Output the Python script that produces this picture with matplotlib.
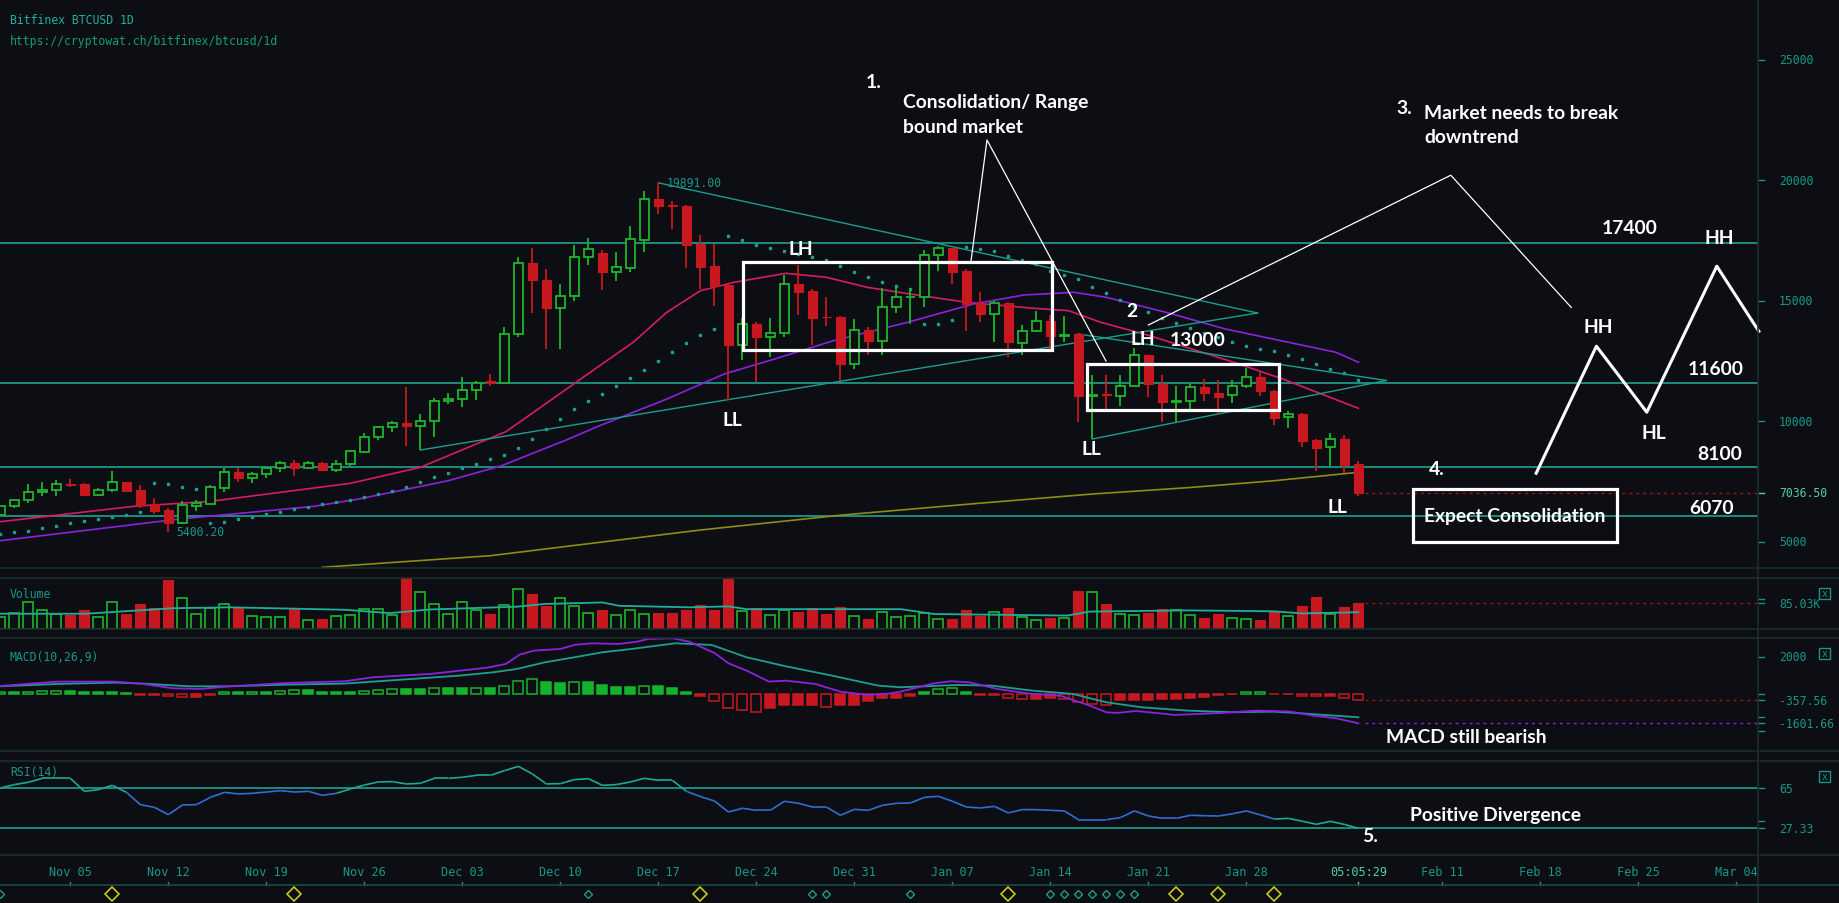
import numpy as np
import matplotlib
matplotlib.use('Agg')
import matplotlib.pyplot as plt
from matplotlib.lines import Line2D
from matplotlib.patches import Rectangle
from matplotlib.collections import LineCollection

# ---- data (day 0 = Nov 05 2017, last candle = Feb 05 2018) ----
days = np.arange(-5, 93)

opens = [6122, 6467, 6744, 7049, 7131, 7380, 7380, 6952, 7131, 7477,
         7145, 6550, 6315, 5790, 6495, 6578, 7242, 7878, 7657, 7795,
         8044, 8265, 8072, 8265, 7989, 8210, 8736, 9330, 9745, 9925,
         9787, 10000, 10850, 10930, 11300, 11650, 11600, 13600, 16550, 15850,
         14700, 15200, 16800, 16979, 16178, 16357, 17531, 19220, 18960, 18930,
         17353, 16427, 15651, 13174, 14033, 13481, 13647, 15680, 15402, 14324,
         14324, 12386, 13772, 13340, 14739, 15141, 15141, 16884, 17174, 16220,
         14892, 14436, 14892, 13232, 13755, 14170, 13548, 13618, 11058, 11100,
         11033, 11473, 12747, 11531, 10784, 10826, 11407, 11158, 11100, 11448,
         11822, 11241, 10162, 10299, 9220, 8917, 9261, 8224]
highs = [6500, 6740, 7394, 7480, 7560, 7590, 7420, 7230, 7933, 7480,
         7350, 6800, 6400, 6690, 6730, 7350, 8050, 8050, 7880, 8100,
         8340, 8390, 8350, 8320, 8400, 8790, 9500, 9790, 10000, 11400,
         10300, 10950, 11150, 11850, 11650, 11950, 13900, 16800, 17200, 16300,
         15700, 17300, 17600, 17120, 17008, 18087, 19540, 19891, 19150, 18960,
         17726, 17353, 15700, 14300, 14100, 14282, 16066, 16481, 15485, 15166,
         14378, 14241, 13896, 15514, 15622, 15527, 17104, 17282, 17200, 16315,
         15349, 15000, 14934, 14000, 14560, 14407, 14378, 13650, 11900, 11917,
         11917, 13025, 12750, 11917, 11448, 11585, 11751, 11710, 11710, 12195,
         12029, 11300, 10436, 10340, 9250, 9510, 9427, 8361]
lows = [6080, 6380, 6600, 6900, 6900, 7280, 6950, 6900, 7050, 7050,
        6390, 6150, 5400, 5750, 6270, 6540, 7080, 7490, 7420, 7660,
        7910, 7740, 8020, 7930, 7880, 8160, 8700, 9240, 9560, 8985,
        8805, 9360, 10700, 10600, 10900, 11450, 11650, 13500, 14500, 13000,
        13000, 15000, 16500, 15430, 15830, 16200, 17030, 18600, 17975, 16357,
        15485, 14793, 10892, 12540, 11614, 12651, 13506, 14419, 13174, 13963,
        11680, 12166, 12759, 12759, 14477, 14033, 14726, 16245, 15693, 13755,
        14104, 13300, 12651, 12750, 13714, 12884, 13274, 9954, 9261, 10506,
        10643, 11400, 11017, 9979, 9913, 10506, 10851, 10299, 10755, 11378,
        11058, 9855, 9730, 8942, 7946, 8129, 7851, 6909]
closes = [6467, 6717, 7049, 7145, 7380, 7370, 6952, 7145, 7477, 7117,
          6523, 6288, 5790, 6523, 6606, 7256, 7878, 7643, 7795, 8044,
          8252, 8072, 8252, 7989, 8210, 8750, 9330, 9745, 9911, 9787,
          10000, 10850, 10930, 11300, 11600, 11600, 13600, 16550, 15850, 14700,
          15200, 16800, 17150, 16178, 16386, 17547, 19207, 18942, 18942, 17324,
          16411, 15597, 13174, 14033, 13506, 13647, 15680, 15373, 14295, 14311,
          12386, 13772, 13340, 14739, 15141, 15160, 16884, 17174, 16203, 14876,
          14436, 14892, 13274, 13755, 14170, 13548, 13589, 11058, 11087, 11087,
          11473, 12747, 11531, 10784, 10820, 11407, 11158, 10992, 11448, 11822,
          11241, 10145, 10286, 9191, 8900, 9261, 8195, 7036.5]

sar = [5320, 5416, 5458, 5569, 5665, 5776, 5873, 5942, 6025, 6108,
       6246, 7449, 7408, 7270, 7187, 5776, 5831, 5942, 6025, 6149,
       6232, 6371, 6440, 6578, 6661, 6730, 6869, 6979, 7104, 7270,
       7491, 7685, 7864, 8058, 8238, 8431, 8611, 8888, 9275, 9676,
       10091, 10500, 10850, 11129, 11473, 11793, 12137, 12510, 12884, 13245,
       13589, 13826, 17697, 17531, 17324, 17187, 17050, 16940, 16826, 16689,
       16452, 16203, 15971, 15788, 15610, 15485, 14033, 14033, 14212, 17241,
       17145, 17075, 16867, 16689, 16510, 16245, 16066, 15900, 15581, 15300,
       15050, 14800, 14550, 14300, 14080, 13870, 13680, 13490, 13299, 13133,
       12996, 12913, 12759, 12593, 12386, 12166, 11988, 11710]

ma_pink_days = [-5, 4.5, 10, 20, 25, 31.1, 32.4, 37.8, 40.2, 42.6, 45, 47.4, 51.1, 54,
                56.9, 60, 64, 68.8, 71.3, 73.6, 77.1, 83.1, 86.6, 92]
ma_pink = [5831, 6467, 6675, 7422, 8086, 9565, 10091, 12303, 13274, 14519, 15415, 15763,
           16137, 15971, 15556, 15278, 14934, 14685, 14585, 14104, 13548, 12444, 11751, 10535]
ma_purple_days = [-5, 7.8, 17.4, 20.6, 27, 30.8, 35.3, 37.8, 42.6, 46.7, 50.3, 54.5, 59.8,
                  64.5, 68.1, 71.7, 74, 78.5, 82.5, 90.4, 92]
ma_purple = [5043, 5942, 6467, 6772, 7533, 8155, 9192, 9813, 10921, 11958, 12581, 13340,
             14104, 14863, 15237, 15348, 15141, 14480, 13826, 12859, 12444]
ma_olive_days = [18, 30, 45, 55, 65, 73, 80, 86, 92]
ma_olive = [3937, 4419, 5485, 6100, 6600, 6979, 7250, 7531, 7880]

levels = [17400, 11600, 8100, 6070]
price_ticks = [25000, 20000, 15000, 10000, 5000]
last_price = 7036.5

volume = [38, 52, 89, 61, 48, 46, 61, 38, 87, 49, 82, 69, 160, 100, 48, 69, 81, 68, 41, 38,
          38, 68, 28, 32, 41, 45, 64, 64, 46, 167, 120, 81, 48, 87, 61, 48, 77, 130, 114, 75,
          100, 74, 51, 61, 45, 61, 48, 52, 52, 61, 78, 61, 164, 58, 68, 45, 61, 56, 68, 49,
          71, 41, 32, 55, 38, 44, 51, 32, 33, 62, 43, 56, 69, 38, 28, 36, 35, 124, 120, 83,
          48, 46, 52, 65, 61, 45, 36, 49, 35, 32, 28, 57, 41, 75, 105, 50, 72, 85.03]
vol_ma_days = [-5, 1.1, 7.3, 11.4, 19.6, 22.8, 25.7, 31.9, 33.9, 38, 39.2, 44.2, 47, 48.3,
               59.3, 61.7, 71.2, 72.8, 79.8, 85.9, 88, 92]
vol_ma = [50, 50, 68, 71, 63, 52, 64, 73, 82, 87, 76, 71, 74, 65, 65, 49, 44, 57, 61, 58, 51, 55]

macd_hist = [72, 72, 100, 140, 150, 150, 110, 110, 100, 60, -60, -90, -150, -190, -190, -70,
             72, 72, 108, 108, 162, 180, 180, 108, 108, 108, 162, 216, 270, 234, 234, 288,
             288, 288, 325, 288, 433, 703, 811, 649, 559, 613, 613, 451, 343, 343, 433, 397,
             325, 108, -108, -397, -793, -883, -974, -793, -613, -613, -613, -703, -613, -613,
             -397, -250, -216, -108, 108, 270, 288, 108, -72, -72, -252, -270, -270, -252,
             -270, -469, -577, -613, -361, -325, -325, -288, -288, -216, -180, -72, -36, 72,
             108, -36, -36, -108, -144, -144, -216, -357.56]
macd_days = [-5, -0.9, 3.2, 5.2, 7.3, 9.3, 11.4, 15.5, 19.6, 21.6, 25.7, 29.8, 31.1, 32.1,
             33.1, 35, 36, 37.2, 39.2, 40.5, 41.3, 43, 44.2, 46, 47, 48.3, 49.9, 51.1, 53.2,
             55, 56.9, 58.5, 59.3, 61.7, 62.9, 64.2, 66.2, 68.7, 70.7, 72.8, 74, 74.8, 76.1,
             78.9, 82.2, 84.7, 87.1, 88.8, 90.4, 92]
macd_line = [418, 653, 653, 526, 292, 256, 400, 581, 671, 887, 1067, 1410, 1608, 2113,
             2329, 2420, 2636, 2726, 2690, 2816, 2961, 2997, 2816, 2203, 1644, 1248, 653, 707,
             526, 112, -69, 4, 112, 563, 671, 617, 256, -14, -105, -645, -1006, -1042, -934,
             -1150, -1042, -916, -970, -1186, -1330, -1601.66]
signal_days = [-5, -0.9, 3.2, 5.2, 8.5, 11.4, 15.5, 19.6, 23.7, 27.8, 30.2, 31.9, 33.9, 36,
               38, 40.1, 43.2, 45.8, 48.3, 51.1, 54.4, 57.7, 59.3, 63.4, 65.8, 68.7, 71.6, 74,
               76.5, 79.8, 83, 85.9, 87.5, 92]
signal_line = [400, 526, 599, 545, 400, 400, 490, 545, 761, 977, 1158, 1338, 1698, 1969,
               2239, 2420, 2726, 2636, 1969, 1482, 977, 436, 346, 472, 436, 166, -14, -465,
               -736, -916, -1006, -970, -1042, -1277]

rsi = [65.3, 68.5, 70.7, 74.4, 74.4, 74.4, 62.2, 63.7, 67.8, 61.2, 49.6, 47.1, 40.2, 49.3,
       49.6, 56.5, 61.2, 59.7, 60.3, 61.5, 62.8, 61.5, 62.2, 58.4, 60.3, 64.4, 68.1, 71.0,
       71.3, 69.1, 69.7, 74.4, 74.4, 75.4, 77.2, 77.2, 81.6, 85.7, 78.5, 69.1, 69.4, 73.2,
       74.1, 67.8, 68.5, 71.0, 74.4, 72.5, 72.5, 62.2, 57.2, 53.1, 42.7, 46.2, 44.3, 44.3,
       52.8, 50.9, 47.4, 47.4, 39.6, 45.2, 44.3, 49.0, 50.9, 51.2, 56.5, 57.5, 52.8, 47.4,
       46.5, 48.0, 41.8, 45.0, 44.9, 44.3, 43.7, 35.5, 35.5, 35.5, 37.4, 43.7, 39.0, 36.7,
       36.7, 39.6, 39.2, 38.9, 41.0, 43.7, 40.0, 36.1, 36.7, 34.0, 31.1, 33.9, 31.0, 27.33]
rsi_teal_spans = [(-5, 4), (19.5, 44), (86.5, 92)]

date_tick_days = [0, 7, 14, 21, 28, 35, 42, 49, 56, 63, 70, 77, 84, 98, 105, 112, 119]
date_tick_labels = ['Nov 05', 'Nov 12', 'Nov 19', 'Nov 26', 'Dec 03', 'Dec 10', 'Dec 17',
                    'Dec 24', 'Dec 31', 'Jan 07', 'Jan 14', 'Jan 21', 'Jan 28',
                    'Feb 11', 'Feb 18', 'Feb 25', 'Mar 04']
teal_marks = [-5, 37, 53, 54, 60, 70, 71, 72, 73, 74, 75, 76]
yellow_marks = [3, 16, 45, 67, 79, 82, 86]

# ---- styling ----
W, H = 1839, 904
BG = '#0d0e13'
GREEN = '#1cb52b'
RED = '#c8181f'
TEAL = '#1fae9c'
LABEL = '#17978a'
SEP = '#1a2e2e'
WHITE_FONT = ['Lato', 'DejaVu Sans']
NOTE_SIZE = 13.9
MONO = 'DejaVu Sans Mono'
X0, X1 = -70.4 / 14, (1758 - 70.4) / 14
AXR = 1758 / W


def rect(top, bottom):
    return [0, 1 - bottom / H, AXR, (bottom - top) / H]


fig = plt.figure(figsize=(W / 100, H / 100), dpi=100, facecolor=BG)
ax = fig.add_axes(rect(0, 569))
axv = fig.add_axes(rect(579, 630))
axm = fig.add_axes(rect(639, 751.7))
axr = fig.add_axes(rect(761.7, 856))
axd = fig.add_axes(rect(856, 904))
for a in (ax, axv, axm, axr, axd):
    a.set_facecolor(BG)
    a.set_xlim(X0, X1)
    a.set_xticks([])
    a.set_yticks([])
    for s in a.spines.values():
        s.set_visible(False)
ax.set_ylim(3909, 27519)
axv.set_ylim(0, 167)
axm.set_ylim(-3085, 3012)
axr.set_ylim(2.2, 91)
axd.set_ylim(904, 856)

# separators and right axis line
for yp in [569, 579, 630, 639, 751.7, 761.7, 856]:
    fig.add_artist(Line2D([0, 1], [1 - yp / H] * 2, color=SEP, lw=1.2))
fig.add_artist(Line2D([AXR, AXR], [0, 1], color=SEP, lw=1.2))


def right_label(a, val, txt, color=LABEL):
    tr = a.get_yaxis_transform()
    a.plot([1.0, 1.0 + 6 / 1758], [val, val], color=color, lw=1, transform=tr, clip_on=False)
    a.text(1.0 + 21 / 1758, val, txt, transform=tr, color=color, fontsize=8.3,
           family=MONO, va='center', ha='left', clip_on=False)


def note(a, d, v, txt, ha='center'):
    a.text(d, v, txt, color='white', fontsize=NOTE_SIZE, fontweight='bold',
           family=WHITE_FONT, ha=ha, va='center', zorder=7)


# ---- main price panel ----
opens, highs, lows, closes = map(np.array, (opens, highs, lows, closes))
up = closes >= opens
cols = np.where(up, GREEN, RED)
ax.vlines(days, lows, highs, colors=cols, lw=1.3, zorder=4)
body_lo = np.minimum(opens, closes)
body_h = np.maximum(np.abs(closes - opens), 25)
ax.bar(days[up], body_h[up], bottom=body_lo[up], width=0.7, facecolor=BG,
       edgecolor=GREEN, lw=1.3, zorder=5)
ax.bar(days[~up], body_h[~up], bottom=body_lo[~up], width=0.7, facecolor=RED,
       edgecolor=RED, lw=0.8, zorder=5)

ax.plot(ma_pink_days, ma_pink, color='#d81b66', lw=1.2, zorder=3)
ax.plot(ma_purple_days, ma_purple, color='#8a22e0', lw=1.2, zorder=3)
ax.plot(ma_olive_days, ma_olive, color='#8c8c16', lw=1.2, zorder=3)
ax.plot(days, sar, 's', color='#1a9e90', ms=2.0, zorder=3)

for lv in levels:
    ax.axhline(lv, color=TEAL, lw=1.1, zorder=2)

# trend triangles
ax.plot([42, 84.8], [19891, 14490], color='#1a9e90', lw=1.0, zorder=3)
ax.plot([25, 84.8], [8805, 14490], color='#1a9e90', lw=1.0, zorder=3)
ax.plot([72, 94], [13618, 11690], color='#1a9e90', lw=1.0, zorder=3)
ax.plot([73, 94], [9261, 11690], color='#1a9e90', lw=1.0, zorder=3)
ax.text(42.6, 19891, '19891.00', color=LABEL, fontsize=8.3, family=MONO, va='center')
ax.text(7.55, 5440, '5400.20', color=LABEL, fontsize=8.3, family=MONO, va='center')

ax.plot([92.5, X1], [last_price] * 2, color='#a0141c', lw=1, ls=(0, (2, 3)))
for pt in price_ticks:
    right_label(ax, pt, str(pt))
right_label(ax, last_price, '7036.50', color='#4fd49a')

fig.text(10 / W, 1 - 21 / H, 'Bitfinex BTCUSD 1D', color='#1fb0a0', fontsize=8.3,
         family=MONO, va='center')
fig.text(10 / W, 1 - 42 / H, 'https://cryptowat.ch/bitfinex/btcusd/1d', color='#12a070',
         fontsize=8.3, family=MONO, va='center')

# boxes
for (d0, d1, p0, p1) in [(48.06, 70.12, 12967, 16593), (72.6, 86.35, 10465, 12373),
                         (95.9, 110.5, 5000, 7191)]:
    ax.add_patch(Rectangle((d0, p0), d1 - d0, p1 - p0, fill=False, ec='white',
                           lw=2.3, zorder=6))

# annotation lines
ax.plot([64.33, 65.47, 73.97], [16647, 21668, 12498], color='white', lw=0.9, zorder=6)
ax.plot([77.0, 98.6, 107.2], [13992, 20207, 14722], color='white', lw=0.9, zorder=6)
ax.plot([104.7, 109.0, 112.6, 117.6, 120.6], [7842, 13112, 10373, 16432, 13734],
        color='white', lw=2.2, zorder=6, clip_on=False)

notes = [
    (57.4, 24116, '1.', 'center'),
    (59.5, 23286, 'Consolidation/ Range', 'left'),
    (59.5, 22249, 'bound market', 'left'),
    (95.3, 23037, '3.', 'center'),
    (96.7, 22830, 'Market needs to break', 'left'),
    (96.7, 21793, 'downtrend', 'left'),
    (111.4, 18017, '17400', 'center'),
    (117.8, 17643, 'HH', 'center'),
    (52.2, 17146, 'LH', 'center'),
    (75.8, 14614, '2', 'center'),
    (76.6, 13452, 'LH', 'center'),
    (80.5, 13411, '13000', 'center'),
    (109.1, 13950, 'HH', 'center'),
    (117.5, 12207, '11600', 'center'),
    (47.3, 10091, 'LL', 'center'),
    (113.1, 9552, 'HL', 'center'),
    (72.9, 8888, 'LL', 'center'),
    (117.8, 8680, '8100', 'center'),
    (97.6, 8058, '4.', 'center'),
    (90.5, 6481, 'LL', 'center'),
    (103.2, 6108, 'Expect Consolidation', 'center'),
    (117.2, 6440, '6070', 'center'),
]
for d, p, txt, ha in notes:
    note(ax, d, p, txt, ha)

# ---- volume ----
volume = np.array(volume)
axv.bar(days[up], volume[up], width=0.72, facecolor=BG, edgecolor=GREEN, lw=1.2)
axv.bar(days[~up], volume[~up], width=0.72, facecolor=RED, edgecolor=RED, lw=0.8)
axv.plot(vol_ma_days, vol_ma, color=TEAL, lw=1.3)
axv.plot([92.5, X1], [85.03] * 2, color='#a0141c', lw=1, ls=(0, (2, 3)))
axv.text(10 / 1758, 0.7, 'Volume', transform=axv.transAxes, color=LABEL, fontsize=8.3,
         family=MONO, va='center')
right_label(axv, 85.03, '85.03K')
axv.plot([1.0, 1.0 + 6 / 1758], [97, 97], color=LABEL, lw=1,
         transform=axv.get_yaxis_transform(), clip_on=False)

# ---- MACD ----
hist = np.array(macd_hist)
prev = np.concatenate([[0], hist[:-1]])
hollow = np.abs(hist) > np.abs(prev)
hcol = np.where(hist >= 0, '#12b52a', RED)
for d, v, c, ho in zip(days, hist, hcol, hollow):
    axm.bar(d, v, width=0.72, facecolor=BG if ho else c, edgecolor=c, lw=1.1)
axm.plot(signal_days, signal_line, color='#1e9e90', lw=1.3)
axm.plot(macd_days, macd_line, color='#8a22e0', lw=1.3)
axm.plot([92.5, X1], [-357.56] * 2, color='#a0141c', lw=1, ls=(0, (2, 3)))
axm.plot([92.5, X1], [-1601.66] * 2, color='#8a22e0', lw=1, ls=(0, (2, 3)))
axm.text(10 / 1758, 2000, 'MACD(10,26,9)', color=LABEL, fontsize=8.3, family=MONO,
         va='center', transform=axm.get_yaxis_transform())
right_label(axm, 2000, '2000')
right_label(axm, -357.56, '-357.56')
right_label(axm, -1601.66, '-1601.66')
for v in (0, -1262, -2000):
    axm.plot([1.0, 1.0 + 6 / 1758], [v, v], color=LABEL, lw=1,
             transform=axm.get_yaxis_transform(), clip_on=False)
note(axm, 99.7, -2290, 'MACD still bearish')

# ---- RSI ----
axr.axhline(65, color=TEAL, lw=1.1)
axr.axhline(27.33, color=TEAL, lw=1.1)
rsi = np.array(rsi)
segs, scol = [], []
for i in range(len(days) - 1):
    segs.append([(days[i], rsi[i]), (days[i + 1], rsi[i + 1])])
    mid = days[i] + 0.5
    teal = any(a <= mid <= b for a, b in rsi_teal_spans)
    scol.append('#1ea896' if teal else '#2f6fd2')
axr.add_collection(LineCollection(segs, colors=scol, lw=1.2))
axr.text(10 / 1758, 80.5, 'RSI(14)', color=LABEL, fontsize=8.3, family=MONO,
         va='center', transform=axr.get_yaxis_transform())
right_label(axr, 65, '65')
right_label(axr, 27.33, '27.33')
axr.plot([1.0, 1.0 + 6 / 1758], [34, 34], color=LABEL, lw=1,
         transform=axr.get_yaxis_transform(), clip_on=False)
note(axr, 101.8, 39.9, 'Positive Divergence')
note(axr, 92.8, 20.5, '5.')

# ---- date strip ----
fig.add_artist(Line2D([0, 1], [1 - 886 / H] * 2, color='#1a4a46', lw=1.2))
for d, lab in zip(date_tick_days, date_tick_labels):
    axd.plot([d, d], [882.5, 886], color=LABEL, lw=1)
    axd.text(d, 872.5, lab, color=LABEL, fontsize=8.6, family=MONO, ha='center', va='center')
axd.plot([92, 92], [882.5, 886], color='#4fd49a', lw=1)
axd.text(92, 872.5, '05:05:29', color='#4fd49a', fontsize=8.6, family=MONO,
         ha='center', va='center')
axd.plot(teal_marks, [895] * len(teal_marks), 'D', ms=4.5, mfc='none', mec='#1a9c8c', mew=1)
axd.plot(yellow_marks, [895] * len(yellow_marks), 'D', ms=7, mfc='none', mec='#c8c81a',
         mew=1.2)

# close boxes on the right
for yt in [589, 649, 772]:
    fig.add_artist(Rectangle((1819 / W, 1 - (yt + 11) / H), 11 / W, 11 / H, fill=False,
                             ec=LABEL, lw=1, transform=fig.transFigure))
    fig.text(1824.5 / W, 1 - (yt + 5.5) / H, 'x', color=LABEL, fontsize=7, ha='center',
             va='center', family=MONO)

fig.savefig('out.png', dpi=100, facecolor=BG)
